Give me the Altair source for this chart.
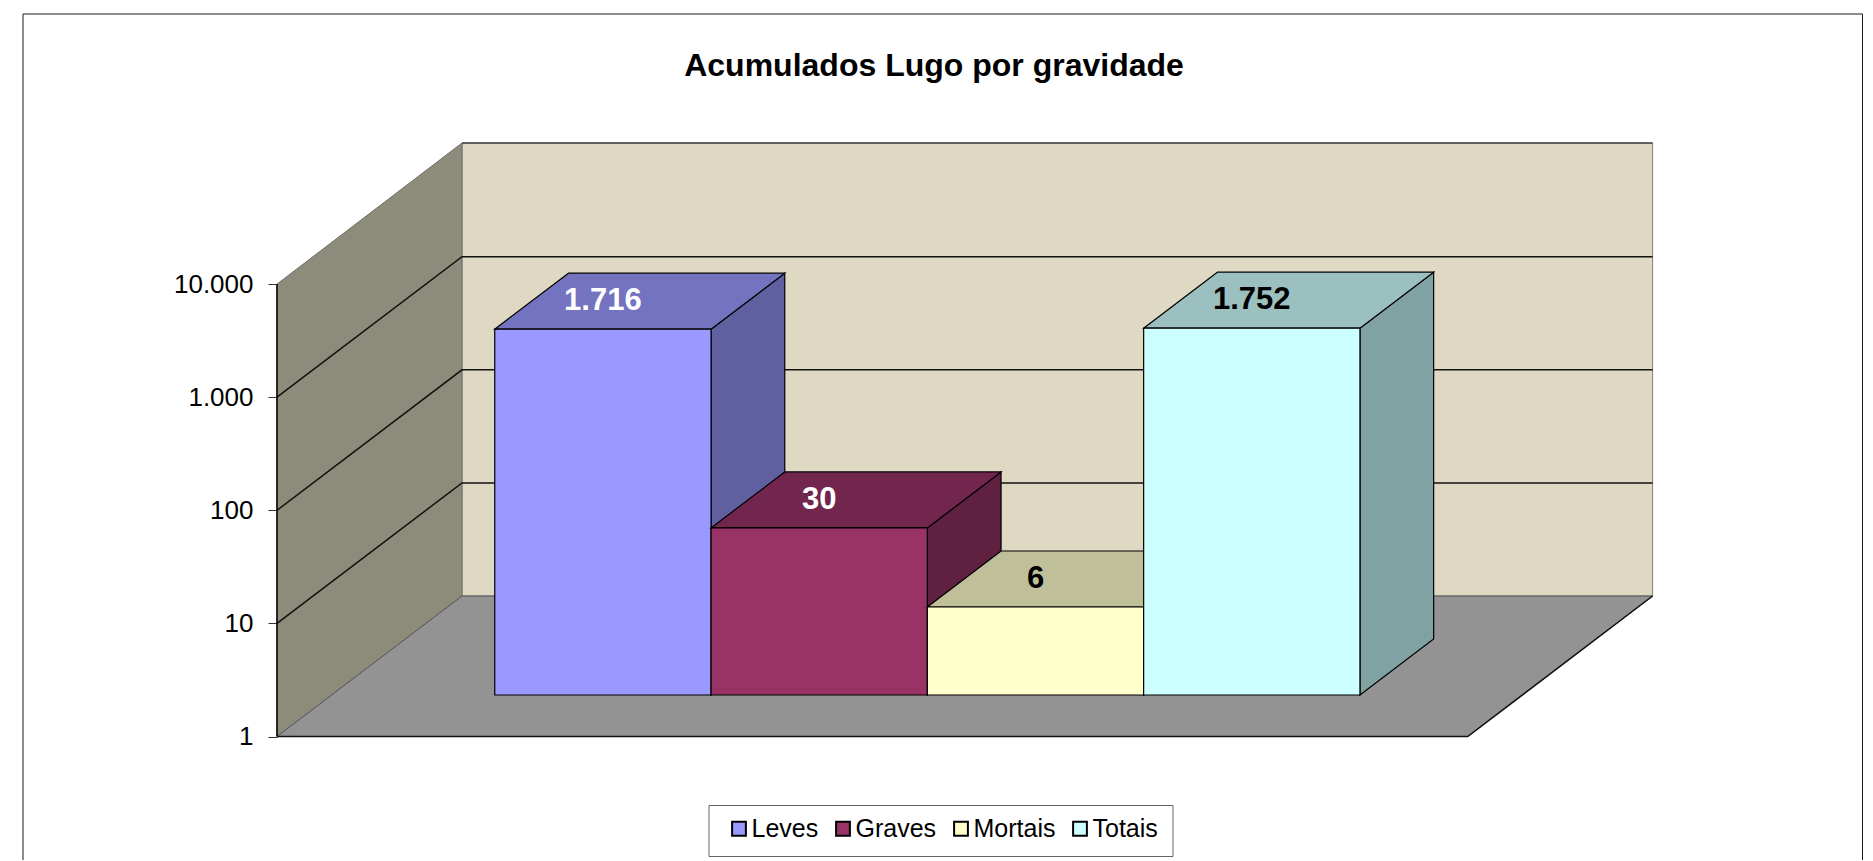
import altair as alt
import pandas as pd

TITLE = "Acumulados  Lugo por gravidade"
categories = ["Leves", "Graves", "Mortais", "Totais"]
values = [1716, 30, 6, 1752]
value_labels = ["1.716", "30", "6", "1.752"]
label_colors = ["#FFFFFF", "#FFFFFF", "#000000", "#000000"]
front_colors = ["#9999FF", "#993366", "#FFFFCC", "#CCFFFF"]
top_colors = ["#7373BF", "#73264D", "#BFBF99", "#9CC0C0"]
side_colors = ["#6060A0", "#602040", "#808060", "#80A2A2"]
ticks = [1, 10, 100, 1000, 10000]

FONT = "Liberation Sans"
W, H = 1376, 593.5
DECADE = 113.1
WALL_DX, WALL_DY = 185, 140.5
FLOOR_W = 1190.7
BAR_W = 216.3
BAR_DX, BAR_DY = 73.7, 56
FRONT_DX, FRONT_DY = 55, 41.5
GAP = (FLOOR_W - 4 * BAR_W) / 2


def lift(v, px):
    return v * 10 ** (px / DECADE)


xs = alt.Scale(domain=[0, W], range=[0, W], nice=False, zero=False)
ys = alt.Scale(type="log", domain=[1, lift(1, H)], nice=False)
AXIS = alt.Axis(
    values=ticks, domain=False, grid=False, tickSize=9, tickColor="#333333",
    labelFont=FONT, labelFontSize=26, labelColor="#000000", labelPadding=15,
    labelExpr="replace(format(datum.value, ','), ',', '.')")


def X(f="x"):
    return alt.X(f"{f}:Q", scale=xs, axis=None, title=None)


def Y(f="y"):
    return alt.Y(f"{f}:Q", scale=ys, axis=AXIS, title=None)


def vface(rows, **mark):
    return alt.Chart(pd.DataFrame(rows)).mark_area(orient="vertical", **mark).encode(
        x=X(), y=Y(), y2=alt.Y2("y2:Q"))


def hface(rows, **mark):
    return alt.Chart(pd.DataFrame(rows)).mark_area(orient="horizontal", **mark).encode(
        y=Y(), x=X(), x2=alt.X2("x2:Q"))


layers = []

# back wall
top_v = lift(1, H)
layers.append(vface(
    [{"x": WALL_DX, "y": lift(1, WALL_DY), "y2": top_v},
     {"x": W - 0.4, "y": lift(1, WALL_DY), "y2": top_v}],
    color="#DFD9C3", stroke="#808080", strokeWidth=1))
# left wall
layers.append(vface(
    [{"x": 0, "y": 1, "y2": 10000},
     {"x": WALL_DX, "y": lift(1, WALL_DY), "y2": top_v}],
    color="#8D8B7A", stroke="#6e6e6e", strokeWidth=1))
# floor
layers.append(hface(
    [{"y": 1, "x": 0, "x2": FLOOR_W},
     {"y": lift(1, WALL_DY), "x": WALL_DX, "x2": W - 0.4}],
    color="#939393", stroke="#555555", strokeWidth=1))
# floor's dark front and right edges
layers.append(alt.Chart(pd.DataFrame(
    [{"x": 0, "y": 1, "o": 0}, {"x": FLOOR_W, "y": 1, "o": 1},
     {"x": W - 0.4, "y": lift(1, WALL_DY), "o": 2}])).mark_line(color="#111111", strokeWidth=1.5).encode(
    x=X(), y=Y(), order="o:O"))
# top edge of the back wall
layers.append(alt.Chart(pd.DataFrame(
    [{"x": WALL_DX, "y": top_v}, {"x": W - 0.4, "y": top_v}])).mark_line(color="#444444", strokeWidth=1.5).encode(
    x=X(), y=Y()))
# grid lines
grid = []
for t in ticks[1:-1]:
    grid += [{"x": 0, "y": t, "d": t, "o": 0},
             {"x": WALL_DX, "y": lift(t, WALL_DY), "d": t, "o": 1},
             {"x": W - 0.4, "y": lift(t, WALL_DY), "d": t, "o": 2}]
layers.append(alt.Chart(pd.DataFrame(grid)).mark_line(color="#111111", strokeWidth=1.5).encode(
    x=X(), y=Y(), detail="d:N", order="o:O"))
# left wall's front edge
layers.append(alt.Chart(pd.DataFrame({"x": [0], "y": [1], "y2": [10000]})).mark_rule(color="#000000", strokeWidth=1.5).encode(
    x=X(), y=Y(), y2=alt.Y2("y2:Q")))

# bars, from the left
stroke = dict(stroke="#000000", strokeWidth=1.2)
for i, (cat, v) in enumerate(zip(categories, values)):
    x0 = FRONT_DX + GAP + i * BAR_W
    x1 = x0 + BAR_W
    base = lift(1, FRONT_DY)
    top = lift(v, FRONT_DY)
    layers.append(vface(
        [{"x": x1, "y": base, "y2": top},
         {"x": x1 + BAR_DX, "y": lift(base, BAR_DY), "y2": lift(top, BAR_DY)}],
        color=side_colors[i], **stroke))
    layers.append(hface(
        [{"y": top, "x": x0, "x2": x1},
         {"y": lift(top, BAR_DY), "x": x0 + BAR_DX, "x2": x1 + BAR_DX}],
        color=top_colors[i], **stroke))
    layers.append(alt.Chart(pd.DataFrame(
        [{"x": x0, "x2": x1, "y": base, "y2": top, "serie": cat}])).mark_rect(**stroke).encode(
        x=X(), x2=alt.X2("x2:Q"), y=Y(), y2=alt.Y2("y2:Q"),
        color=alt.Color("serie:N", scale=alt.Scale(domain=categories, range=front_colors),
                        legend=alt.Legend(
                            title=None, orient="none", legendX=431.5, legendY=662,
                            direction="horizontal", columns=4, columnPadding=8,
                            symbolType="square", symbolSize=190, symbolStrokeWidth=2,
                            symbolStrokeColor="#000000", symbolOpacity=1, symbolOffset=4,
                            labelFont=FONT, labelFontSize=25, labelColor="#000000", labelOffset=0,
                            clipHeight=19,
                            padding=14, fillColor="#FFFFFF", strokeColor="#666666"))))

# data labels on the top faces
for i, (lab, v) in enumerate(zip(value_labels, values)):
    x_mid = FRONT_DX + GAP + (i + 0.5) * BAR_W
    layers.append(alt.Chart(pd.DataFrame(
        [{"x": x_mid, "y": lift(v, FRONT_DY + BAR_DY / 2), "t": lab}])).mark_text(
        font=FONT, fontSize=31, fontWeight="bold", color=label_colors[i], baseline="middle", align="center").encode(
        x=X(), y=Y(), text="t:N"))

# frame of the chart area
base_row = pd.DataFrame({"k": [0]})
for px in (-254, 1585.5):
    layers.append(alt.Chart(base_row).mark_rule(color="#1a1a1a", strokeWidth=1).encode(
        x=alt.value(px), y=alt.value(-129), y2=alt.value(730)))
layers.append(alt.Chart(base_row).mark_rule(color="#1a1a1a", strokeWidth=1).encode(
    x=alt.value(-254), x2=alt.value(1585.5), y=alt.value(-129)))

chart = alt.layer(*layers).properties(
    width=W, height=H,
    padding={"left": 269, "top": 135, "right": 210, "bottom": 123},
    autosize=alt.AutoSizeParams(type="none"),
    background="#FFFFFF",
    title=alt.TitleParams(TITLE, font=FONT, fontSize=32, fontWeight="bold", color="#000000",
                          anchor="middle", frame="group", dx=-31, offset=-69),
).configure_view(stroke=None)

chart.save("out.html", embed_options={"renderer": "svg", "actions": False})
